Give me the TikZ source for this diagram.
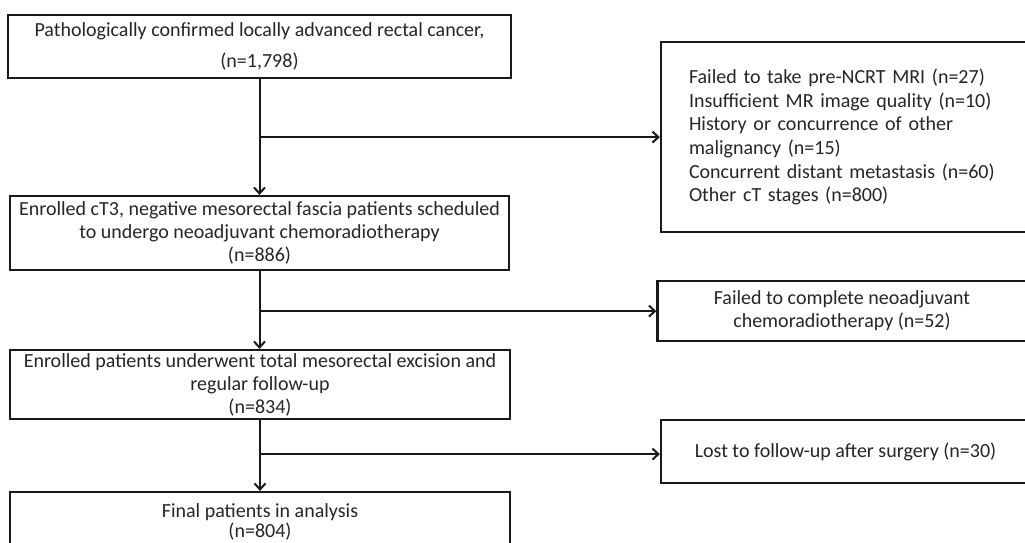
\documentclass[tikz,border=0pt]{standalone}
\usepackage{fontspec}
\setmainfont{Carlito}
\usetikzlibrary{arrows.meta}
\begin{document}
\begin{tikzpicture}[x=1pt,y=-1pt,
  box/.style={draw=black!90, line width=2.2pt, rectangle, inner sep=0pt, align=center,
    text=black!85, font=\fontsize{20}{23}\selectfont},
  arr/.style={line width=2pt, draw=black!90, -{Straight Barb[length=6pt,width=11pt,line width=2pt]}}]
\useasboundingbox (0,0) rectangle (1025,542);
\clip (0,0) rectangle (1025,542);
\fill[white] (0,0) rectangle (1025,542);
\node[box, minimum width=503pt, minimum height=63pt] (a) at (259.5,46.5)
  {Pathologically confirmed locally advanced rectal cancer,\\[8pt](n=1,798)};
\node[box, minimum width=499pt, minimum height=74pt] (b) at (259.5,233)
  {Enrolled cT3, negative mesorectal fascia patients scheduled\\to undergo neoadjuvant chemoradiotherapy\\(n=886)};
\node[box, minimum width=500pt, minimum height=69pt] (c) at (260,384.5)
  {Enrolled patients underwent total mesorectal excision and\\regular follow-up\\(n=834)};
\node[box, minimum width=500pt, minimum height=60pt] (d) at (260,522)
  {Final patients in analysis\\[-3pt](n=804)};
\node[box, minimum width=379pt, minimum height=190pt, align=left, text width=323pt, inner xsep=28pt,
  font=\fontsize{20}{23.7}\selectfont] (e) at (850.5,137)
  {Failed to take pre-NCRT MRI (n=27)\\Insufficient MR image quality (n=10)\\History or concurrence of other\\malignancy (n=15)\\Concurrent distant metastasis (n=60)\\Other cT stages (n=800)};
\node[box, minimum width=369pt, minimum height=60pt] (f) at (842,311)
  {Failed to complete neoadjuvant\\chemoradiotherapy (n=52)};
\node[box, minimum width=369pt, minimum height=63pt] (g) at (845.5,451.5)
  {Lost to follow-up after surgery (n=30)};
\path (a.south) ++(0,58) coordinate (j1);
\path (b.south) ++(0,40) coordinate (j2);
\path (c.south) ++(0,34) coordinate (j3);
\draw[arr] (a.south) -- (b.north);
\draw[arr] (b.south) -- (b.south |- c.north);
\draw[arr] (c.south) -- (d.north);
\draw[arr] (j1) -- (j1 -| e.west);
\draw[arr] (j2) -- (j2 -| f.west);
\draw[arr] (j3) -- (j3 -| g.west);
\end{tikzpicture}
\end{document}
